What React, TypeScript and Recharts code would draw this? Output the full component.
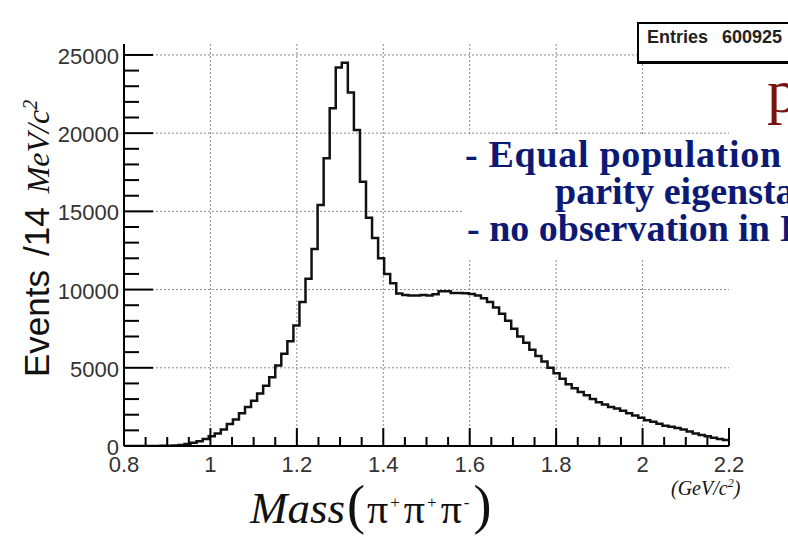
import React from 'react';
import { ComposedChart, Line, XAxis, YAxis, CartesianGrid } from 'recharts';

// 14 MeV bins, 0.8 - 2.2 GeV
const binLow = Array.from({ length: 100 }, (_, i) => +(0.8 + 0.014 * i).toFixed(3));

const counts = [
  0, 0, 0, 0, 0, 5, 10, 20, 35, 60,
  120, 200, 300, 450, 620, 800, 1050, 1400, 1700, 2100,
  2500, 2900, 3350, 3850, 4400, 5150, 5900, 6700, 7700, 9200,
  10700, 12600, 15400, 18400, 21600, 24200, 24500, 22600, 20200, 16900,
  14600, 13300, 12000, 11000, 10400, 9750, 9650, 9620, 9620, 9650,
  9620, 9700, 9900, 9900, 9780, 9780, 9760, 9720, 9620, 9450,
  9200, 8850, 8450, 8000, 7500, 7000, 6600, 6150, 5750, 5400,
  5000, 4650, 4300, 3950, 3700, 3450, 3250, 3000, 2800, 2650,
  2500, 2400, 2250, 2100, 1950, 1800, 1650, 1550, 1420, 1300,
  1230, 1150, 1050, 920, 800, 700, 620, 530, 450, 380,
];

const xTicks = Array.from({ length: 29 }, (_, i) => Math.round((0.8 + 0.05 * i) * 100) / 100);
const yTicks = Array.from({ length: 26 }, (_, i) => i * 1000);
const xGrid = [1, 1.2, 1.4, 1.6, 1.8, 2];
const yGrid = [5000, 10000, 15000, 20000, 25000];

const data = [...binLow.map((x, i) => ({ x, y: counts[i] })), { x: 2.2, y: counts[99] }];

const isMajorX = (v: number) => Math.abs(Math.round(v * 5) - v * 5) < 1e-6;
const isMajorY = (v: number) => v % 5000 === 0;

const tickFont = { fontFamily: '"Liberation Sans", Arial, sans-serif', fontSize: 22, fill: '#333' };

const LeftTick = ({ x, y, payload }: any) => {
  const major = isMajorY(payload.value);
  return (
    <g>
      <line x1={x} x2={x + (major ? 29 : 15)} y1={y} y2={y} stroke="#000" strokeWidth={2} />
      {major && (
        <text x={x - 5} y={y + 9} textAnchor="end" {...tickFont}>
          {payload.value}
        </text>
      )}
    </g>
  );
};

const RightTick = ({ x, y, payload }: any) => {
  const major = isMajorY(payload.value);
  return <line x1={x} x2={x - (major ? 29 : 15)} y1={y} y2={y} stroke="#000" strokeWidth={2} />;
};

const BottomTick = ({ x, y, payload }: any) => {
  const major = isMajorX(payload.value);
  return (
    <g>
      <line x1={x} x2={x} y1={y} y2={y - (major ? 18 : 9)} stroke="#000" strokeWidth={2} />
      {major && (
        <text x={x} y={y + 26} textAnchor="middle" {...tickFont}>
          {String(payload.value)}
        </text>
      )}
    </g>
  );
};

const TopTick = ({ x, y, payload }: any) => {
  const major = isMajorX(payload.value);
  return <line x1={x} x2={x} y1={y} y2={y + (major ? 19 : 10)} stroke="#000" strokeWidth={2} />;
};

const serif = '"Liberation Serif", "Times New Roman", serif';
const blue = '#0d1a73';
const sup = { fontSize: 17, position: 'relative' as const, top: -15, marginLeft: 2, marginRight: 4 };

export default function App() {
  return (
    <div style={{ position: 'absolute', left: 0, top: 0, width: 788, height: 537, overflow: 'hidden', background: '#fff' }}>
      <ComposedChart width={788} height={537} data={data} margin={{ top: 44, right: 59, bottom: 0, left: 0 }}>
        <CartesianGrid
          horizontalValues={yGrid}
          verticalValues={xGrid}
          stroke="#8a8a8a"
          strokeDasharray="2 2"
        />
        <XAxis
          type="number"
          dataKey="x"
          domain={[0.8, 2.2]}
          ticks={xTicks}
          interval={0}
          height={91}
          tickSize={0}
          tickMargin={0}
          tickLine={false}
          tick={BottomTick}
          axisLine={{ stroke: '#000', strokeWidth: 2 }}
          allowDataOverflow
        />
        <XAxis
          xAxisId="top"
          orientation="top"
          type="number"
          dataKey="x"
          domain={[0.8, 2.2]}
          ticks={xTicks}
          interval={0}
          height={0}
          tickSize={0}
          tickMargin={0}
          tickLine={false}
          tick={TopTick}
          axisLine={{ stroke: '#000', strokeWidth: 2 }}
          allowDataOverflow
        />
        <YAxis
          type="number"
          domain={[0, 25700]}
          ticks={yTicks}
          interval={0}
          width={124}
          tickSize={0}
          tickMargin={0}
          tickLine={false}
          tick={LeftTick}
          axisLine={{ stroke: '#000', strokeWidth: 2 }}
          allowDataOverflow
        />
        <YAxis
          yAxisId="right"
          orientation="right"
          type="number"
          domain={[0, 25700]}
          ticks={yTicks}
          interval={0}
          width={0}
          tickSize={0}
          tickMargin={0}
          tickLine={false}
          tick={RightTick}
          axisLine={{ stroke: '#000', strokeWidth: 2 }}
          allowDataOverflow
        />
        <Line
          xAxisId="top"
          yAxisId="right"
          type="stepAfter"
          dataKey="y"
          stroke="none"
          dot={false}
          isAnimationActive={false}
        />
        <Line
          type="stepAfter"
          dataKey="y"
          stroke="#111"
          strokeWidth={2.5}
          dot={false}
          isAnimationActive={false}
        />
      </ComposedChart>

      {/* y axis title */}
      <div
        style={{
          position: 'absolute',
          left: -130,
          top: 204,
          width: 320,
          height: 40,
          lineHeight: '40px',
          transform: 'rotate(-90deg)',
          transformOrigin: 'center',
          whiteSpace: 'nowrap',
          paddingLeft: 7,
          boxSizing: 'border-box',
          color: '#111',
        }}
      >
        <span style={{ fontFamily: '"Liberation Sans", Arial, sans-serif', fontSize: 35 }}>
          Events<span style={{ marginLeft: 14 }}>/14</span>
        </span>
        <span style={{ fontFamily: serif, fontStyle: 'italic', fontSize: 32, marginLeft: 14 }}>
          MeV/c<sup style={{ fontSize: 20 }}>2</sup>
        </span>
      </div>

      {/* x axis title */}
      <div
        style={{
          position: 'absolute',
          left: 250,
          top: 478,
          height: 55,
          lineHeight: '55px',
          whiteSpace: 'nowrap',
          fontFamily: serif,
          color: '#111',
        }}
      >
        <span style={{ fontStyle: 'italic', fontSize: 45 }}>Mass</span>
        <span style={{ fontSize: 54, fontWeight: 300, marginLeft: 2, marginRight: 2 }}>(</span>
        <span style={{ fontSize: 42 }}>π</span>
        <span style={sup}>+</span>
        <span style={{ fontSize: 42 }}>π</span>
        <span style={sup}>+</span>
        <span style={{ fontSize: 42 }}>π</span>
        <span style={sup}>-</span>
        <span style={{ fontSize: 54, fontWeight: 300 }}>)</span>
      </div>
      <div
        style={{
          position: 'absolute',
          left: 671,
          top: 476,
          fontFamily: serif,
          fontStyle: 'italic',
          fontSize: 20,
          whiteSpace: 'nowrap',
          color: '#111',
        }}
      >
        (GeV/c<sup style={{ fontSize: 12 }}>2</sup>)
      </div>

      {/* stats box */}
      <div
        style={{
          position: 'absolute',
          left: 637,
          top: 22,
          width: 170,
          height: 37,
          border: '2px solid #000',
          borderBottomWidth: 3,
          background: '#fff',
        }}
      />
      <div
        style={{
          position: 'absolute',
          left: 647,
          top: 27,
          fontFamily: '"Liberation Sans", Arial, sans-serif',
          fontWeight: 'bold',
          fontSize: 18,
          color: '#222',
          whiteSpace: 'nowrap',
        }}
      >
        Entries<span style={{ marginLeft: 14 }}>600925</span>
      </div>

      {/* slide overlay */}
      <div style={{ position: 'absolute', left: 767, top: 56, fontFamily: serif, fontSize: 62, color: '#7a1212', whiteSpace: 'nowrap' }}>
        p
      </div>
      <div style={{ position: 'absolute', left: 462, top: 136, width: 330, height: 124, background: '#fff' }} />
      <div style={{ position: 'absolute', left: 465, top: 135, fontFamily: serif, fontWeight: 'bold', fontSize: 38, lineHeight: '38px', color: blue, whiteSpace: 'nowrap', letterSpacing: 0.7 }}>
        - Equal population<span style={{ color: '#e0a040', marginLeft: 8 }}>(</span>
      </div>
      <div style={{ position: 'absolute', left: 555, top: 172, fontFamily: serif, fontWeight: 'bold', fontSize: 38, lineHeight: '38px', color: blue, whiteSpace: 'nowrap' }}>
        parity eigenstates
      </div>
      <div style={{ position: 'absolute', left: 467, top: 209, fontFamily: serif, fontWeight: 'bold', fontSize: 38, lineHeight: '38px', color: blue, whiteSpace: 'nowrap' }}>
        - no observation in I
      </div>
    </div>
  );
}
